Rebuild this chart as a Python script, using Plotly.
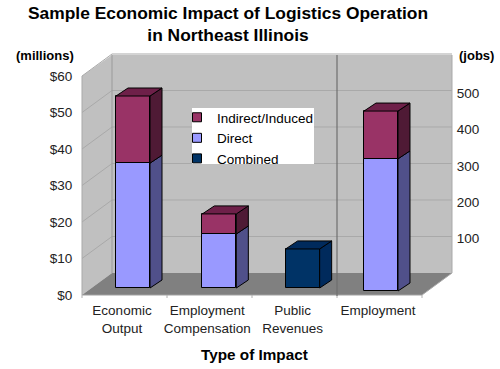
import plotly.graph_objects as go

categories = ["Economic<br>Output", "Employment<br>Compensation", "Public<br>Revenues", "Employment"]
direct_millions = [34.2, 14.8]
indirect_millions = [18.4, 5.5]
combined_millions = [10.7]
direct_jobs = [362]
indirect_jobs = [131]
money_ticks = [0, 10, 20, 30, 40, 50, 60]
money_labels = ["$0", "$10", "$20", "$30", "$40", "$50", "$60"]
jobs_ticks = [100, 200, 300, 400, 500]

W, H = 500, 369
px_x = lambda p: p / W
px_y = lambda p: 1 - p / H
# x axis: category index -> pixels
X0, XS = 122.0, 85.33
XR = [(0 - X0) / XS, (W - X0) / XS]
# Bar axes: pixel base and pixel scale
YM0, YMS = 288.0, 3.65
YJ0, YJS = 291.0, 0.365
YMR = [(YM0 - H) / YMS, YM0 / YMS]
YJR = [(YJ0 - H) / YJS, YJ0 / YJS]
BAR_W = 34 / XS
SHIFT = [11 / XS, 12 / XS, 10 / XS, 3 / XS]
DX = 12 / XS
DPX = 8

C_IND = ("#993366", "#4f1a35", "#6e2049")
C_DIR = ("#9999ff", "#50508a", "#50508a")
C_COM = ("#003366", "#002a5c", "#002a5c")

fig = go.Figure()


def poly(xs, ys, color, yaxis):
    fig.add_trace(go.Scatter(x=xs, y=ys, mode="lines", fill="toself", fillcolor=color,
                             line=dict(color="black", width=1), showlegend=False,
                             hoverinfo="skip", xaxis="x", yaxis=yaxis))


def bar3d(i, low, high, cols, yaxis, dy, name):
    left = i + SHIFT[i] - BAR_W / 2
    right = left + BAR_W
    fig.add_trace(go.Bar(x=[i + SHIFT[i]], y=[high - low], base=[low], width=[BAR_W],
                         marker=dict(color=cols[0], line=dict(color="black", width=1)),
                         name=name, showlegend=False, xaxis="x", yaxis=yaxis))
    poly([right, right + DX, right + DX, right, right], [low, low + dy, high + dy, high, low], cols[1], yaxis)


def top3d(i, high, cols, yaxis, dy):
    left = i + SHIFT[i] - BAR_W / 2
    right = left + BAR_W
    poly([left, left + DX, right + DX, right, left], [high, high + dy, high + dy, high, high], cols[2], yaxis)


dm = DPX / YMS
dj = DPX / YJS
for i in range(2):
    d, n = direct_millions[i], indirect_millions[i]
    bar3d(i, 0, d, C_DIR, "y", dm, "Direct")
    bar3d(i, d, d + n, C_IND, "y", dm, "Indirect/Induced")
    top3d(i, d + n, C_IND, "y", dm)
bar3d(2, 0, combined_millions[0], C_COM, "y", dm, "Combined")
top3d(2, combined_millions[0], C_COM, "y", dm)
bar3d(3, 0, direct_jobs[0], C_DIR, "y2", dj, "Direct")
bar3d(3, direct_jobs[0], direct_jobs[0] + indirect_jobs[0], C_IND, "y2", dj, "Indirect/Induced")
top3d(3, direct_jobs[0] + indirect_jobs[0], C_IND, "y2", dj)

# Axis-carrying traces
fig.add_trace(go.Scatter(x=[0, 3], y=[0, 60], mode="markers", marker=dict(opacity=0), showlegend=False,
                         hoverinfo="skip", xaxis="x2", yaxis="y3"))
fig.add_trace(go.Scatter(x=[0, 3], y=[0, 500], mode="markers", marker=dict(opacity=0), showlegend=False,
                         hoverinfo="skip", xaxis="x2", yaxis="y4"))

# Legend entries
for nm, c in [("Indirect/Induced", C_IND[0]), ("Direct", C_DIR[0]), ("Combined", C_COM[0])]:
    fig.add_trace(go.Scatter(x=[None], y=[None], mode="markers", name=nm,
                             marker=dict(symbol="square", size=9, color=c, line=dict(color="black", width=1)),
                             xaxis="x", yaxis="y"))

# Room geometry
FL, FR, FB, FT = 82, 422, 295, 76
BL, BR, BB, BT = 112, 452, 273, 55
PS = (FB - FT) / 60


def pth(points):
    return "M " + " L ".join(f"{px_x(a):.5f},{px_y(b):.5f}" for a, b in points) + " Z"


shapes = []


def shape(points, fill):
    shapes.append(dict(type="path", xref="paper", yref="paper", layer="below", path=pth(points),
                       fillcolor=fill, line=dict(width=0)))


def seg(points, color="#a9a9a9", width=1):
    for (a, b), (c, d) in zip(points[:-1], points[1:]):
        shapes.append(dict(type="line", xref="paper", yref="paper", layer="below",
                           x0=px_x(a), y0=px_y(b), x1=px_x(c), y1=px_y(d), line=dict(color=color, width=width)))


shape([(BL, BT), (BR, BT), (BR, BB), (BL, BB)], "#c0c0c0")
shape([(FL, FT), (BL, BT), (BL, BB), (FL, FB)], "#c0c0c0")
shape([(FL, FB), (BL, BB), (BR, BB), (FR, FB)], "#808080")
for v in money_ticks[1:]:
    off = v * PS
    seg([(FL, FB - off), (BL, BB - off), (BR, BB - off)])
seg([(FL, FT), (FL, FB)])
seg([(BL, BT), (BL, BB)], "#9a9a9a")
seg([(BR, BT), (BR, BB)])
seg([(BR, BB), (FR, FB)], "#a9a9a9")
seg([(FL, FB), (FR, FB)], "#a0a0a0")
for k in range(5):
    x = FL + k * 85
    seg([(x, FB), (x, FB + 3)], "#b0b0b0")
seg([(337, BT), (337, FB + 1)], "#6e6e6e", 1.2)
# legend box
shape([(192, 108), (314, 108), (314, 164), (192, 164)], "white")

AF = "Liberation Sans, Arial, sans-serif"
fig.update_layout(
    template="none",
    width=W, height=H, margin=dict(l=0, r=0, t=0, b=0, pad=0), autosize=False,
    paper_bgcolor="white", plot_bgcolor="rgba(0,0,0,0)", font=dict(family=AF, color="black", size=13.5),
    barmode="overlay", bargap=0, shapes=shapes,
    title=dict(text="<b>Sample Economic Impact of Logistics Operation<br>in Northeast Illinois</b>",
               x=228 / W, xanchor="center", y=1 - 18.5 / H, yanchor="middle", font=dict(size=17.4, family=AF)),
    xaxis=dict(domain=[0, 1], range=XR, visible=False, fixedrange=True),
    yaxis=dict(domain=[0, 1], range=YMR, visible=False, fixedrange=True),
    yaxis2=dict(domain=[0, 1], range=YJR, visible=False, overlaying="y", fixedrange=True),
    xaxis2=dict(domain=[0, 1], range=XR, anchor="y3", tickmode="array", tickvals=[0, 1, 2, 3], ticktext=categories,
                ticks="outside", ticklen=3, tickcolor="rgba(0,0,0,0)", showgrid=False, zeroline=False,
                showline=False, tickfont=dict(size=13.5, color="#222"), automargin=False),
    yaxis3=dict(domain=[px_y(FB), px_y(FT)], range=[0, 60], anchor="free", position=FL / W,
                tickmode="array", tickvals=money_ticks, ticktext=money_labels, ticks="outside", ticklen=7,
                tickcolor="rgba(0,0,0,0)", showgrid=False, zeroline=False, showline=False,
                tickfont=dict(size=13.5, color="#222"), automargin=False),
    yaxis4=dict(domain=[px_y(BB + 2), px_y(91 + 2)], range=[0, 500], anchor="free", position=BR / W, side="right",
                tickmode="array", tickvals=jobs_ticks, ticks="outside", ticklen=1,
                tickcolor="rgba(0,0,0,0)", showgrid=False, zeroline=False, showline=False,
                tickfont=dict(size=13.5, color="#222"), automargin=False),
    legend=dict(x=177 / W, y=px_y(102), xanchor="left", yanchor="top", bgcolor="rgba(0,0,0,0)",
                font=dict(size=13.5), traceorder="normal", itemclick=False, tracegroupgap=0),
    annotations=[
        dict(text="<b>(millions)</b>", xref="paper", yref="paper", x=45 / W, y=px_y(56), showarrow=False,
             yanchor="middle", xanchor="center", font=dict(size=13)),
        dict(text="<b>(jobs)</b>", xref="paper", yref="paper", x=476 / W, y=px_y(56), showarrow=False,
             yanchor="middle", xanchor="center", font=dict(size=13)),
        dict(text="<b>Type of Impact</b>", xref="paper", yref="paper", x=254 / W, y=px_y(354), showarrow=False,
             yanchor="middle", xanchor="center", font=dict(size=15.3)),
    ],
)
fig.write_html("out.html", config={"displayModeBar": False},
               post_script="document.body.style.margin='0';document.body.style.overflow='hidden';")
